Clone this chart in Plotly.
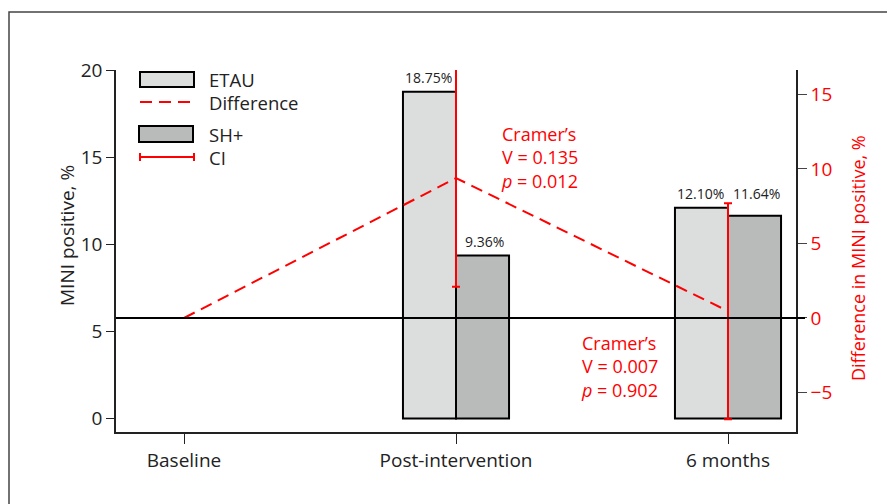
import plotly.graph_objects as go

# ---------------- data ----------------
categories = ["Baseline", "Post-intervention", "6 months"]
etau = [None, 18.75, 12.10]
shplus = [None, 9.36, 11.64]
difference = [0.0, 9.39, 0.46]
ci_low = [None, 2.1, -6.8]
ci_high = [None, 16.7, 7.7]
cramers_v = [None, "0.135", "0.007"]
p_values = [None, "0.012", "0.902"]
left_ticks = [0, 5, 10, 15, 20]
right_ticks = [-5, 0, 5, 10, 15]

# ---------------- style ----------------
FONT = "Open Sans"
RED = "#ff0000"
C_ETAU = "#dcdddd"
C_SH = "#b9baba"
TXT = "#222222"
OFF = 8                      # browser body margin
W, H = 895 - OFF, 504 - OFF
# plot area in screen pixels
SL, SR, ST, SB = 116, 796, 70, 432


def pxx(x):
    return (x - SL) / (SR - SL)


def pxy(y):
    return (SB - y) / (SB - ST)


fig = go.Figure()

fig.add_trace(go.Bar(x=categories, y=etau, name="ETAU",
                     marker=dict(color=C_ETAU, line=dict(color="black", width=2)), showlegend=False))
fig.add_trace(go.Bar(x=categories, y=shplus, name="SH+",
                     marker=dict(color=C_SH, line=dict(color="black", width=2)), showlegend=False))

fig.add_trace(go.Scatter(x=categories, y=difference, yaxis="y2", mode="lines", name="Difference",
                         line=dict(color=RED, width=2, dash="12px,7px"), showlegend=False))

ci_x, ci_y, ci_plus, ci_minus = [], [], [], []
for c, d, lo, hi in zip(categories, difference, ci_low, ci_high):
    if lo is None:
        continue
    ci_x.append(c)
    ci_y.append(d)
    ci_plus.append(hi - d)
    ci_minus.append(d - lo)
fig.add_trace(go.Scatter(x=ci_x, y=ci_y, yaxis="y2", mode="markers", name="CI",
                         marker=dict(size=1, color="rgba(0,0,0,0)"),
                         error_y=dict(type="data", symmetric=False, array=ci_plus, arrayminus=ci_minus,
                                      color=RED, thickness=2, width=4),
                         showlegend=False))

annotations = []
# bar value labels
for c, a, b in zip(categories, etau, shplus):
    if a is None:
        continue
    ya = a
    yb = b
    if abs(a - b) < 1:
        ya = yb = max(a, b)
    annotations.append(dict(x=c, y=ya, xref="x", yref="y", text=f"{a:.2f}%", showarrow=False,
                            xshift=-28, yshift=14, font=dict(size=14, color=TXT, family=FONT)))
    annotations.append(dict(x=c, y=yb, xref="x", yref="y", text=f"{b:.2f}%", showarrow=False,
                            xshift=28, yshift=14, font=dict(size=14, color=TXT, family=FONT)))

# Cramer's V annotations
stat_pos = [None, (499, 157), (579, 366)]
for v, p, pos in zip(cramers_v, p_values, stat_pos):
    if v is None:
        continue
    annotations.append(dict(x=pxx(pos[0]), y=pxy(pos[1]), xref="paper", yref="paper",
                            xanchor="left", yanchor="middle", align="left", showarrow=False,
                            text=f"Cramer’s<br>V = {v}<br><i>p</i> = {p}",
                            font=dict(size=18, color=RED, family=FONT)))

# axis titles
annotations.append(dict(x=pxx(67), y=pxy(236), xref="paper", yref="paper", text="MINI positive, %",
                        xanchor="center", yanchor="middle",
                        textangle=-90, showarrow=False, font=dict(size=19, color=TXT, family=FONT)))
annotations.append(dict(x=pxx(858), y=pxy(258), xref="paper", yref="paper",
                        text="Difference in MINI positive, %", xanchor="center", yanchor="middle",
                        textangle=-90, showarrow=False, font=dict(size=18, color=RED, family=FONT)))

# legend (manual)
leg_items = [("ETAU", 79), ("Difference", 102), ("SH+", 134), ("CI", 157)]
for name, yy in leg_items:
    annotations.append(dict(x=pxx(207), y=pxy(yy), xref="paper", yref="paper", xanchor="left",
                            yanchor="middle", text=name, showarrow=False,
                            font=dict(size=18.5, color=TXT, family=FONT)))

shapes = [
    # outer frame
    dict(type="rect", xref="paper", yref="paper", x0=pxx(9), x1=pxx(905), y0=pxy(515), y1=pxy(12),
         line=dict(color="#444444", width=1.5), layer="below"),
    # zero line of right axis
    dict(type="line", xref="paper", yref="y2", x0=0, x1=pxx(805), y0=0, y1=0,
         line=dict(color="black", width=2), layer="above"),
    # legend glyphs
    dict(type="rect", xref="paper", yref="paper", x0=pxx(140), x1=pxx(194), y0=pxy(87), y1=pxy(72),
         fillcolor=C_ETAU, line=dict(color="black", width=2)),
    dict(type="line", xref="paper", yref="paper", x0=pxx(140), x1=pxx(194), y0=pxy(102), y1=pxy(102),
         line=dict(color=RED, width=2, dash="12px,7px")),
    dict(type="rect", xref="paper", yref="paper", x0=pxx(139), x1=pxx(193), y0=pxy(142), y1=pxy(126),
         fillcolor=C_SH, line=dict(color="black", width=2)),
    dict(type="line", xref="paper", yref="paper", x0=pxx(140), x1=pxx(194), y0=pxy(157), y1=pxy(157),
         line=dict(color=RED, width=2)),
    dict(type="line", xref="paper", yref="paper", x0=pxx(140), x1=pxx(140), y0=pxy(153), y1=pxy(161),
         line=dict(color=RED, width=2)),
    dict(type="line", xref="paper", yref="paper", x0=pxx(194), x1=pxx(194), y0=pxy(153), y1=pxy(161),
         line=dict(color=RED, width=2)),
]

fig.update_layout(
    width=W, height=H,
    margin=dict(l=SL - OFF, r=W - (SR - OFF), t=ST - OFF, b=H - (SB - OFF), pad=0),
    paper_bgcolor="white", plot_bgcolor="white",
    barmode="group", bargap=0.61, bargroupgap=0,
    font=dict(family=FONT, size=19, color=TXT),
    showlegend=False,
    xaxis=dict(type="category", range=[-0.25, 2.25], showline=True, linecolor="#222222", linewidth=1.5,
               ticks="outside", ticklen=10, tickcolor="#222222", tickwidth=1, showgrid=False, zeroline=False,
               tickfont=dict(size=19, color=TXT, family=FONT)),
    yaxis=dict(range=[-0.775, 20.0], tickvals=left_ticks, showline=True, linecolor="#222222", linewidth=1.5,
               ticks="outside", ticklen=8, tickcolor="#222222", showgrid=False, zeroline=False,
               tickfont=dict(size=19, color=TXT, family=FONT)),
    yaxis2=dict(range=[-7.65, 16.64], tickvals=right_ticks, overlaying="y", side="right", showline=True,
                linecolor="#222222", linewidth=1.5, ticks="outside", ticklen=9, tickcolor="#444444",
                showgrid=False, zeroline=False, tickfont=dict(size=19, color=RED, family=FONT)),
    annotations=annotations,
    shapes=shapes,
)

fig.write_html("out.html")
